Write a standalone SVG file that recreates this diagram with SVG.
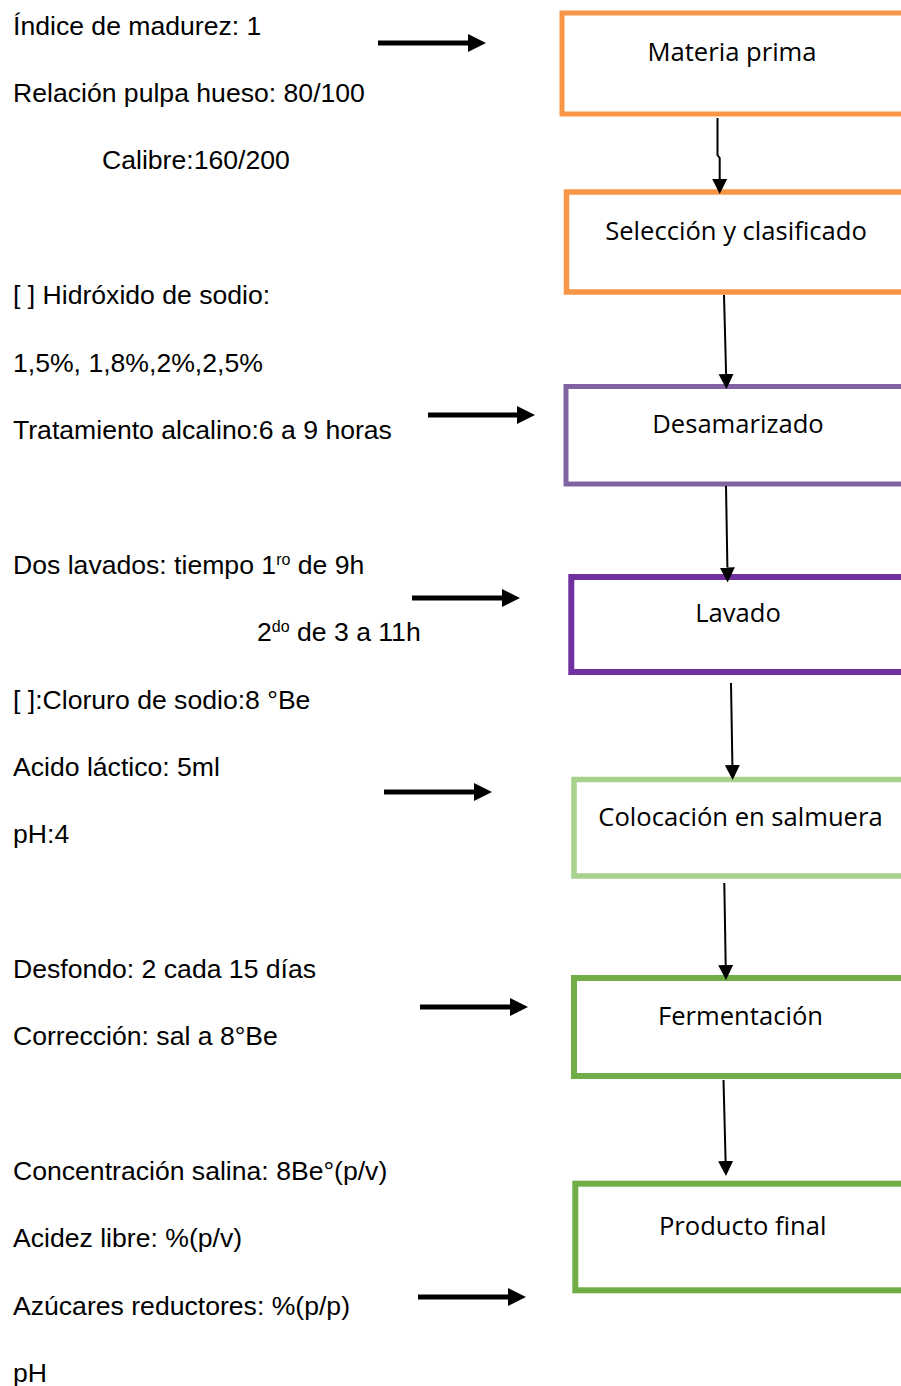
<svg xmlns="http://www.w3.org/2000/svg" width="901" height="1386" viewBox="0 0 901 1386">
<style>
.lbl{font-family:"Liberation Sans",Arial,sans-serif;font-size:26.6px;fill:#000}
.sup{font-size:16px}
.box{fill:#fff}
.bt{font-family:"Open Sans","Noto Sans",sans-serif;font-size:25.6px;fill:#000;text-anchor:middle}
.conn{stroke:#000;stroke-width:2;fill:none}
.side{stroke:#000;stroke-width:5;fill:none}
</style>
<defs>
<marker id="ah" markerUnits="userSpaceOnUse" markerWidth="16" markerHeight="16" viewBox="0 0 16 16" refX="0" refY="8" orient="auto">
<path d="M0,0.5 L15,8 L0,15.5 Z" fill="#000"/>
</marker>
<marker id="ahb" markerUnits="userSpaceOnUse" markerWidth="19" markerHeight="19" viewBox="0 0 19 19" refX="0" refY="9.5" orient="auto">
<path d="M0,0.5 L18,9.5 L0,18.5 Z" fill="#000"/>
</marker>
</defs>
<rect width="901" height="1386" fill="#fff"/>

<g id="labels">
<text class="lbl" x="13" y="35">Índice de madurez: 1</text>
<text class="lbl" x="13" y="102">Relación pulpa hueso: 80/100</text>
<text class="lbl" x="102" y="169">Calibre:160/200</text>
<text class="lbl" x="13" y="304">[ ] Hidróxido de sodio:</text>
<text class="lbl" x="13" y="372">1,5%, 1,8%,2%,2,5%</text>
<text class="lbl" x="13" y="439">Tratamiento alcalino:6 a 9 horas</text>
<text class="lbl" x="13" y="574">Dos lavados: tiempo 1<tspan class="sup" dy="-9">ro</tspan><tspan dy="9"> de 9h</tspan></text>
<text class="lbl" x="257" y="641">2<tspan class="sup" dy="-9">do</tspan><tspan dy="9"> de 3 a 11h</tspan></text>
<text class="lbl" x="13" y="709">[ ]:Cloruro de sodio:8 °Be</text>
<text class="lbl" x="13" y="776">Acido láctico: 5ml</text>
<text class="lbl" x="13" y="843">pH:4</text>
<text class="lbl" x="13" y="978">Desfondo: 2 cada 15 días</text>
<text class="lbl" x="13" y="1045">Corrección: sal a 8°Be</text>
<text class="lbl" x="13" y="1180">Concentración salina: 8Be°(p/v)</text>
<text class="lbl" x="13" y="1247">Acidez libre: %(p/v)</text>
<text class="lbl" x="13" y="1315">Azúcares reductores: %(p/p)</text>
<text class="lbl" x="13" y="1382">pH</text>
</g>

<g id="n1"><rect class="box" x="562" y="13" width="350" height="101" stroke="#F79646" stroke-width="5"/><text class="bt" x="732" y="61">Materia prima</text></g>
<g id="n2"><rect class="box" x="566.5" y="192" width="350" height="100" stroke="#F79646" stroke-width="5.5"/><text class="bt" x="736" y="240">Selección y clasificado</text></g>
<g id="n3"><rect class="box" x="566" y="386.5" width="350" height="97.5" stroke="#8064A2" stroke-width="5"/><text class="bt" x="738" y="433">Desamarizado</text></g>
<g id="n4"><rect class="box" x="571.3" y="577" width="350" height="95" stroke="#7030A0" stroke-width="6"/><text class="bt" x="738" y="622">Lavado</text></g>
<g id="n5"><rect class="box" x="574" y="779.5" width="350" height="96.5" stroke="#A9D18E" stroke-width="5.5"/><text class="bt" x="740.5" y="825.5">Colocación en salmuera</text></g>
<g id="n6"><rect class="box" x="574" y="978" width="350" height="98" stroke="#70AD47" stroke-width="6"/><text class="bt" x="740.5" y="1025">Fermentación</text></g>
<g id="n7"><rect class="box" x="575.3" y="1183.7" width="350" height="106.6" stroke="#70AD47" stroke-width="6"/><text class="bt" x="742.7" y="1235">Producto final</text></g>

<g id="connectors">
<path class="conn" d="M717.5,118 L717.5,155 L719.7,158 L719.7,179" marker-end="url(#ah)"/>
<path class="conn" d="M724,295 L726.1,374" marker-end="url(#ah)"/>
<path class="conn" d="M726,486 L727.4,567.5" marker-end="url(#ah)"/>
<path class="conn" d="M731,683 L732.4,765" marker-end="url(#ah)"/>
<path class="conn" d="M724.3,883 L725.7,965" marker-end="url(#ah)"/>
<path class="conn" d="M723.5,1080 L725.6,1161" marker-end="url(#ah)"/>
<path class="side" d="M378,43 L468,43" marker-end="url(#ahb)"/>
<path class="side" d="M428,415 L517,415" marker-end="url(#ahb)"/>
<path class="side" d="M412,598 L502,598" marker-end="url(#ahb)"/>
<path class="side" d="M384,792 L474,792" marker-end="url(#ahb)"/>
<path class="side" d="M420,1007 L510,1007" marker-end="url(#ahb)"/>
<path class="side" d="M418,1297 L508,1297" marker-end="url(#ahb)"/>
</g>
</svg>
